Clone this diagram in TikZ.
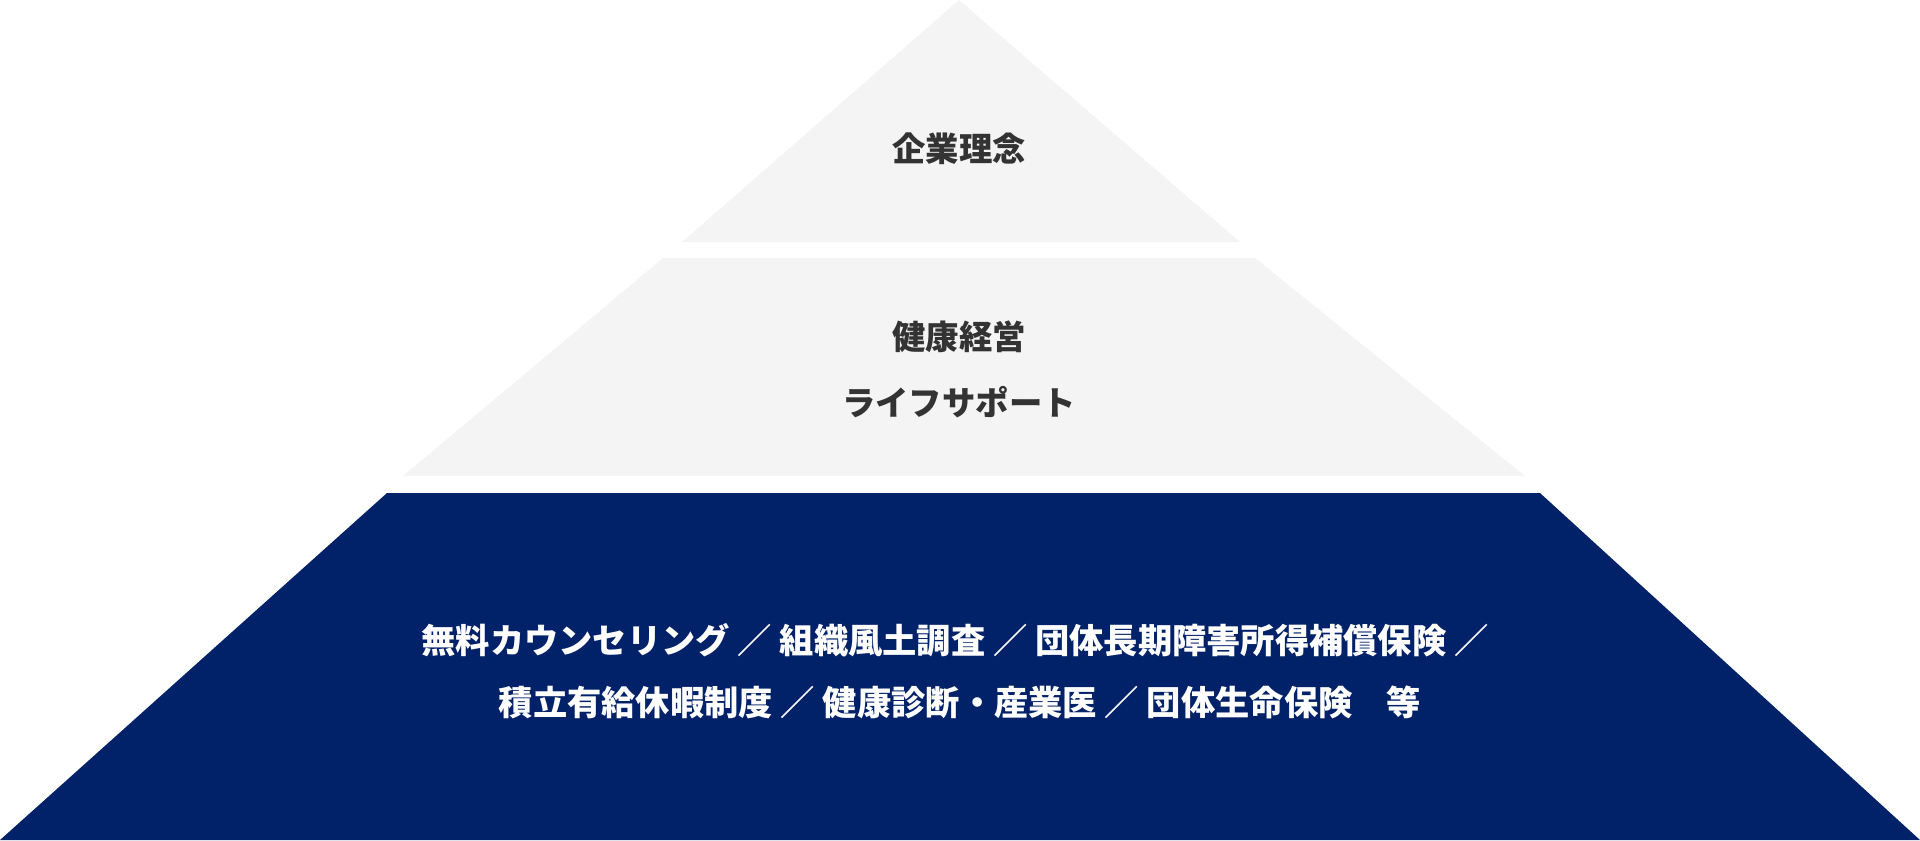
\documentclass[tikz,border=0pt]{standalone}
\usepackage{fontspec}
\newfontfamily\jpfont{Noto Sans CJK JP}
\usepackage{tikz}
\usetikzlibrary{calc,positioning}
\definecolor{tiergray}{HTML}{F4F4F4}
\definecolor{tiernavy}{HTML}{012169}
\definecolor{labelgray}{HTML}{333333}
\tikzset{
  tierlabel/.style={font=\jpfont\bfseries\fontsize{19pt}{37pt}\selectfont, align=center, inner sep=0pt},
  menulabel/.style={tierlabel, font=\jpfont\bfseries\fontsize{19.5pt}{37pt}\selectfont, text=white},
}
\begin{document}
\begin{tikzpicture}[x=0.02cm, y=-0.02cm]
    \useasboundingbox (0,0) rectangle (1920,840);
    % top tier
    \coordinate (T) at (959,0);
    \coordinate (TL) at (682,242);
    \coordinate (TR) at (1240,242);
    % middle tier
    \coordinate (ML1) at (663,258);
    \coordinate (MR1) at (1255,258);
    \coordinate (ML2) at (403,476);
    \coordinate (MR2) at (1525,476);
    % bottom tier
    \coordinate (BL1) at (387,493);
    \coordinate (BR1) at (1540,493);
    \coordinate (BL2) at (0,840);
    \coordinate (BR2) at (1920,840);
    \fill[tiergray] (T) -- (TR) -- (TL) -- cycle;
    \fill[tiergray] (ML1) -- (MR1) -- (MR2) -- (ML2) -- cycle;
    \fill[tiernavy] (BL1) -- (BR1) -- (BR2) -- (BL2) -- cycle;
    \node[tierlabel, text=labelgray] (philo) at (959,149) {企業理念};
    \node[tierlabel, text=labelgray] (kenko) at (959,337) {健康経営};
    \node[tierlabel, text=labelgray] (life) at (959,402) {ライフサポート};
    \node[menulabel] (menu1) at (955,640) {無料カウンセリング ／ 組織風土調査 ／ 団体長期障害所得補償保険 ／};
    \node[menulabel] (menu2) at (960,702) {積立有給休暇制度 ／ 健康診断・産業医 ／ 団体生命保険　等};
\end{tikzpicture}
\end{document}
